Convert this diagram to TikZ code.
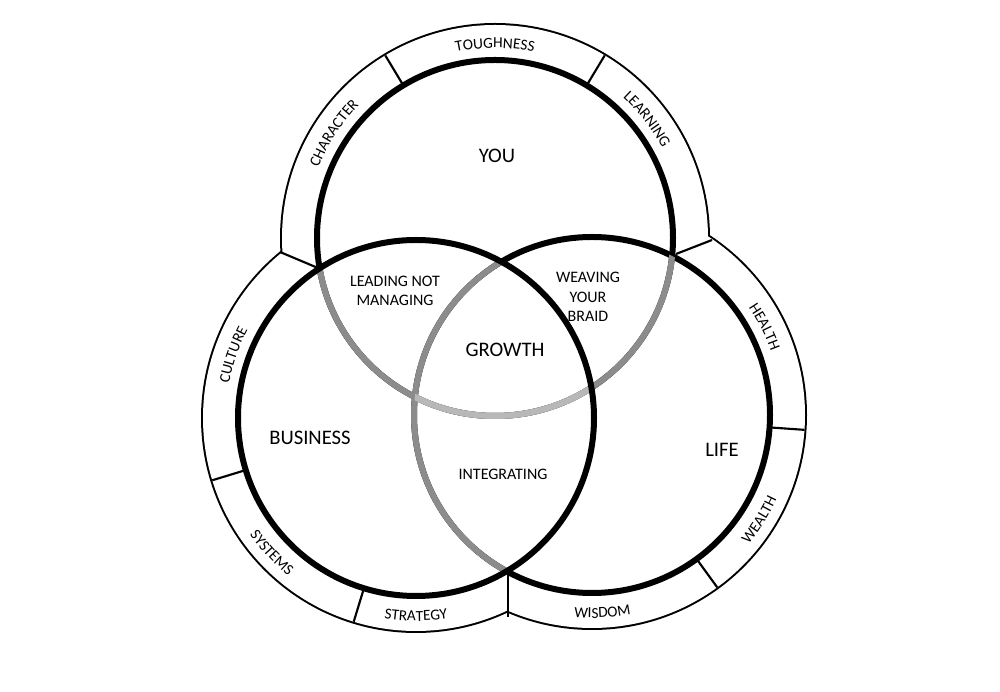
\documentclass[tikz,border=0pt]{standalone}
\usepackage{fontspec}
\setmainfont{Carlito}
\usetikzlibrary{calc}
\usetikzlibrary{decorations.text}
\tikzstyle{ring} = [line width=4.5pt]
\tikzstyle{inner} = [line width=4.5pt, draw=black!45]
\tikzstyle{sep} = [line width=1.6pt]
\tikzstyle{big} = [font=\fontsize{15.5}{17}\selectfont]
\tikzstyle{small} = [font=\fontsize{12}{14.5}\selectfont, align=center]
\newcommand\bandfont{\fontsize{11.5}{13}\selectfont}
% #1 centre, #2 angle, #3 radius, #4 text (clockwise / counter-clockwise)
\newcommand\bandcw[4]{\path[decorate,decoration={text along path,text align=center,text={|\bandfont|#4}}]
  ($(#1)+(#2+30:#3)$) arc[start angle=#2+30,end angle=#2-30,radius=#3];}
\newcommand\bandccw[4]{\path[decorate,decoration={text along path,text align=center,text={|\bandfont|#4}}]
  ($(#1)+(#2-30:#3)$) arc[start angle=#2-30,end angle=#2+30,radius=#3];}

\begin{document}
\begin{tikzpicture}[x=0.75pt,y=0.75pt]
                        \useasboundingbox (0,0) rectangle (1000,692);
                        \coordinate (Y) at (495,454);
                        \coordinate (B) at (416,274);
                        \coordinate (L) at (592,277);

                        % outer band
                        \foreach \c in {Y,B,L} \draw[line width=3pt] (\c) circle[radius=213];
                        \foreach \c in {Y,B,L} \fill[white] (\c) circle[radius=213];

                        % separators
                        \foreach \a in {121,59} \draw[sep] ($(Y)+(\a:178)$) -- ($(Y)+(\a:213)$);
                        \foreach \a in {197,253} \draw[sep] ($(B)+(\a:178)$) -- ($(B)+(\a:213)$);
                        \foreach \a in {-4,-54} \draw[sep] ($(L)+(\a:178)$) -- ($(L)+(\a:213)$);
                        \coordinate (J1) at (318,424); \coordinate (K1) at (280,440);
                        \coordinate (J2) at (676,438); \coordinate (K2) at (712,452);
                        \coordinate (J3) at (508,117); \coordinate (K3) at (508,75);
                        \draw[sep] (J1) -- (K1);
                        \draw[sep] (J2) -- (K2);
                        \draw[sep] (J3) -- (K3);

                        % circles
                        \draw[ring] (Y) circle[radius=178];
                        \draw[ring] (L) circle[radius=178];
                        \begin{scope}
                          \clip (B) circle[radius=178];
                          \draw[inner] (Y) circle[radius=178];
                          \draw[inner] (L) circle[radius=178];
                        \end{scope}
                        \begin{scope}
                          \clip (L) circle[radius=178];
                          \draw[inner] (Y) circle[radius=178];
                        \end{scope}
                        \begin{scope}
                          \clip (L) circle[radius=178];
                          \clip (B) circle[radius=178];
                          \draw[inner, draw=black!28] (Y) circle[radius=178];
                        \end{scope}
                        \draw[ring] (B) circle[radius=178];

                        % band labels
                        \bandcw{Y}{90}{190}{TOUGHNESS}
                        \bandcw{Y}{38}{190}{LEARNING}
                        \bandcw{Y}{147}{190}{CHARACTER}
                        \bandcw{B}{161}{190}{CULTURE}
                        \bandccw{B}{223}{203}{SYSTEMS}
                        \bandccw{B}{270}{203}{STRATEGY}
                        \bandccw{L}{273}{203}{WISDOM}
                        \bandcw{L}{27}{190}{HEALTH}
                        \bandccw{L}{-32}{203}{WEALTH}

                        % region labels
                        \node[big] (you) at (497,536) {YOU};
                        \node[big] (business) at (310,254) {BUSINESS};
                        \node[big] (life) at (722,242) {LIFE};
                        \node[big] (growth) at (505,342) {GROWTH};
                        \node[small] (lead) at (395,401) {LEADING NOT\\MANAGING};
                        \node[small] (weave) at (588,395) {WEAVING\\YOUR\\BRAID};
                        \node[small] (integ) at (503,218) {INTEGRATING};
                    \end{tikzpicture}
\end{document}
